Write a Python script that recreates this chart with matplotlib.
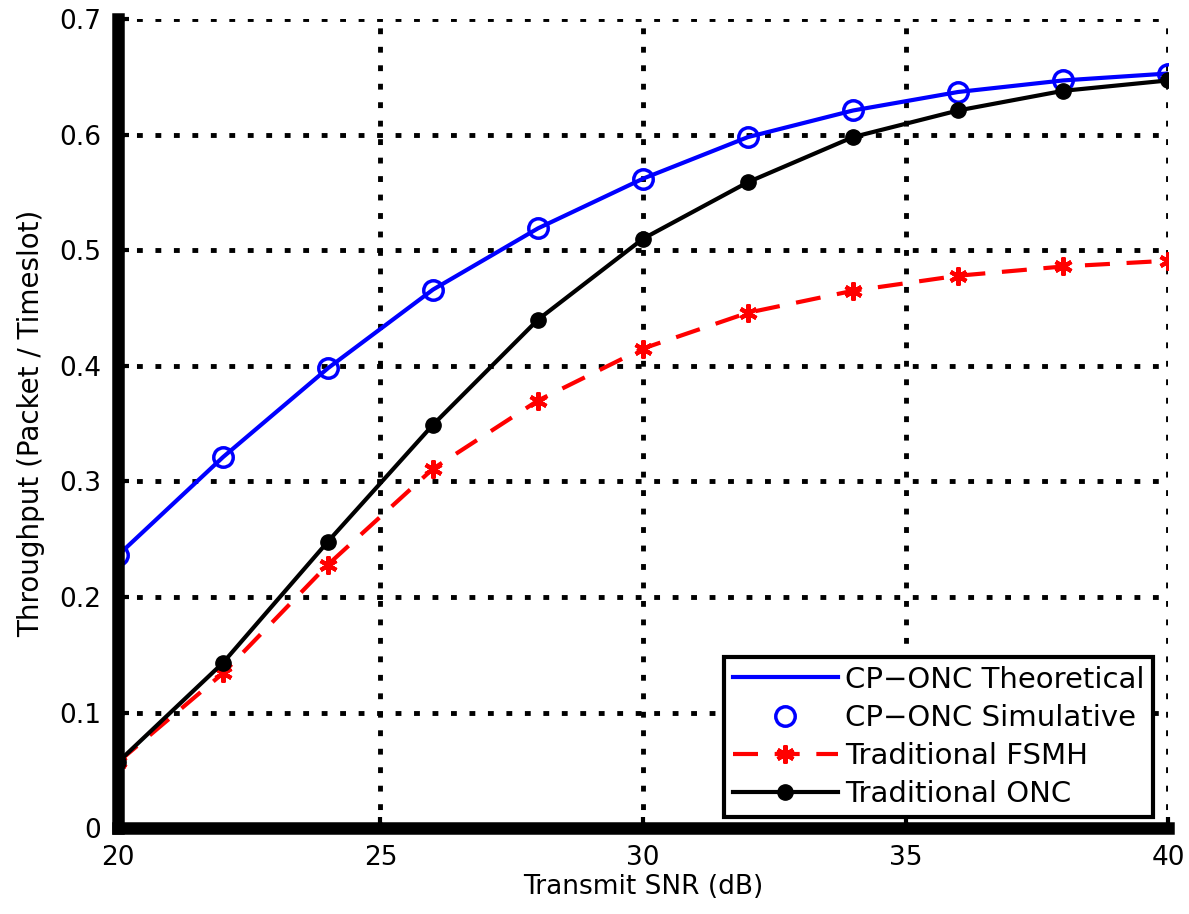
import matplotlib
matplotlib.use("Agg")
import matplotlib.pyplot as plt

plt.rcParams['font.family'] = ['DejaVu Sans']

snr = [20, 22, 24, 26, 28, 30, 32, 34, 36, 38, 40]
cp_onc_theory = [0.236, 0.321, 0.398, 0.466, 0.519, 0.562, 0.598, 0.621, 0.637, 0.647, 0.653]
cp_onc_sim = [0.236, 0.321, 0.398, 0.466, 0.519, 0.562, 0.598, 0.621, 0.637, 0.647, 0.653]
fsmh = [0.057, 0.134, 0.228, 0.311, 0.370, 0.415, 0.446, 0.465, 0.478, 0.486, 0.491]
onc = [0.057, 0.143, 0.248, 0.349, 0.440, 0.510, 0.559, 0.598, 0.621, 0.638, 0.647]

xticks = [20, 25, 30, 35, 40]
yticks = [0, 0.1, 0.2, 0.3, 0.4, 0.5, 0.6, 0.7]

fig = plt.figure(figsize=(11.89, 9.14), dpi=100)
ax = fig.add_axes([0.0992, 0.094, 0.8832, 0.885])

ax.plot(snr, cp_onc_theory, color='blue', lw=3, label='CP\u2212ONC Theoretical')
ax.plot(snr, cp_onc_sim, ls='none', marker='o', ms=14, mfc='none', mec='blue', mew=2.5,
        label='CP\u2212ONC Simulative')
ax.plot(snr, fsmh, color='red', lw=3, ls=(0, (6, 4)), marker=(6, 2, 0), ms=13, mew=3,
        label='Traditional FSMH')
ax.plot(snr, onc, color='black', lw=3, marker='o', ms=11, label='Traditional ONC')

ax.set_xlim(20, 40)
ax.set_ylim(0, 0.7)
ax.set_xticks(xticks)
ax.set_yticks(yticks)
ax.set_xticklabels([str(t) for t in xticks])
ax.set_yticklabels(['0', '0.1', '0.2', '0.3', '0.4', '0.5', '0.6', '0.7'])

ax.grid(True, color='black', ls=(0, (1.2, 2.6)), lw=3.5)
for s in ['top', 'right']:
    ax.spines[s].set_visible(False)
for s in ['left', 'bottom']:
    ax.spines[s].set_linewidth(9)
ax.tick_params(direction='in', length=8, width=3, labelsize=19, pad=12)

ax.set_xlabel('Transmit SNR (dB)', fontsize=19, labelpad=2)
ax.set_ylabel('Throughput (Packet / Timeslot)', fontsize=20, labelpad=10)

leg = ax.legend(loc='lower right', bbox_to_anchor=(0.9857, 0.0136), borderaxespad=0,
                fontsize=21, fancybox=False, edgecolor='black', framealpha=1,
                handlelength=3.6, borderpad=0.3, labelspacing=0.35, handletextpad=0.25)
leg.get_frame().set_linewidth(3)

fig.savefig('out.png', dpi=100)
